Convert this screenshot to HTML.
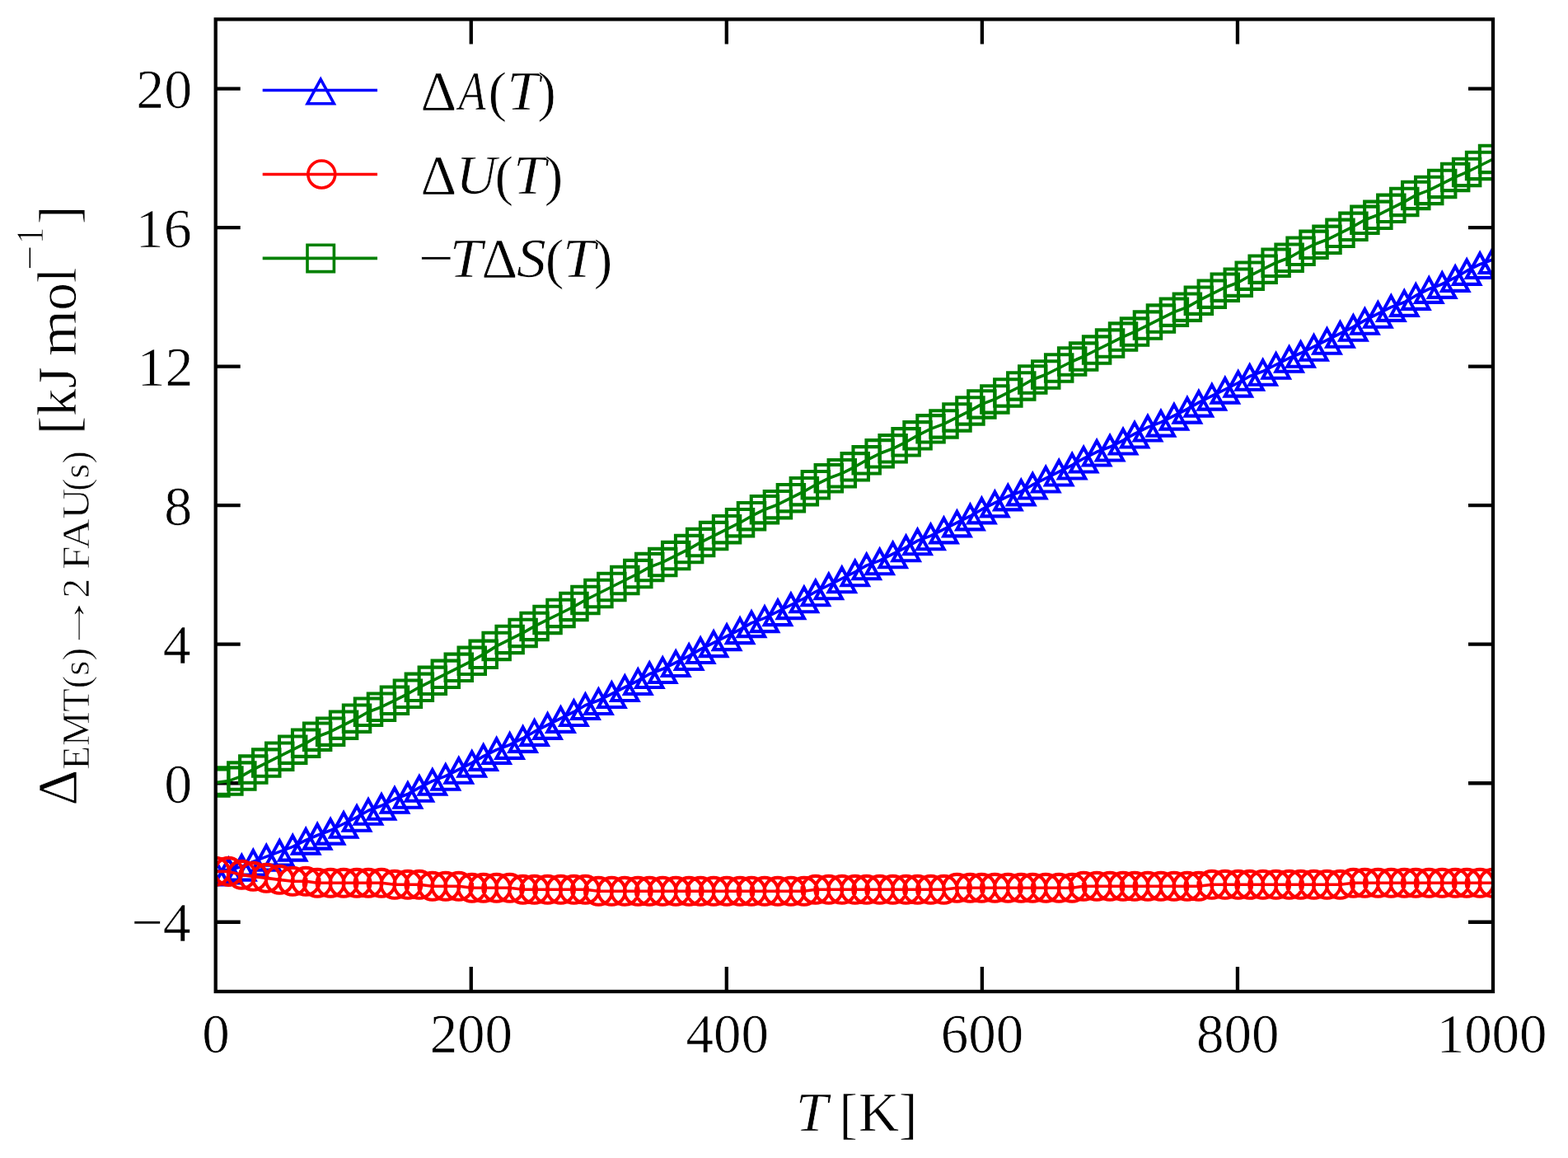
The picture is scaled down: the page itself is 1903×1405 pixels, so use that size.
<!DOCTYPE html>
<html lang="en"><head><meta charset="utf-8"><title>Thermodynamic functions of the EMT to FAU transformation</title>
<style>html,body{margin:0;padding:0;background:#fff}body{width:1903px;height:1405px;overflow:hidden}svg{display:block;filter:blur(0.7px)}</style>
</head><body>
<svg width="1903" height="1405" viewBox="0 0 1903 1405" font-family="'Liberation Serif', serif" fill="#000">
<style>text{stroke:#fff;stroke-width:0.7px;stroke-linejoin:round}</style>
<rect width="1903" height="1405" fill="#fff"/>
<defs><clipPath id="pc"><rect x="261.7" y="23.4" width="1550.3" height="1179.6"/></clipPath></defs>
<path d="M571.76,1203.0v-30.0M571.76,23.4v30.0M881.82,1203.0v-30.0M881.82,23.4v30.0M1191.88,1203.0v-30.0M1191.88,23.4v30.0M1501.94,1203.0v-30.0M1501.94,23.4v30.0M261.7,1118.74h30.0M1812.0,1118.74h-30.0M261.7,950.23h30.0M1812.0,950.23h-30.0M261.7,781.71h30.0M1812.0,781.71h-30.0M261.7,613.20h30.0M1812.0,613.20h-30.0M261.7,444.69h30.0M1812.0,444.69h-30.0M261.7,276.17h30.0M1812.0,276.17h-30.0M261.7,107.66h30.0M1812.0,107.66h-30.0" stroke="#000" stroke-width="4.3" fill="none"/>
<g clip-path="url(#pc)">
<path d="M261.4,1057.4L277.4,1055.4L293.3,1051.4L307.3,1045.4L323.3,1039.4L339.2,1033.4L355.2,1027.4L371.2,1019.4L385.1,1013.5L401.1,1007.5L417.1,999.5L433.0,991.5L447.0,983.5L463.0,977.5L478.9,969.5L494.9,963.5L508.9,955.6L524.8,947.6L540.8,941.6L556.8,933.6L572.7,925.6L586.7,917.6L602.7,909.6L618.6,903.7L634.6,895.7L648.6,887.7L664.5,879.7L680.5,871.7L696.5,863.7L710.4,855.7L726.4,849.8L742.4,841.8L758.3,833.8L774.3,825.8L788.3,817.8L804.2,811.8L820.2,803.8L836.2,795.9L850.1,787.9L866.1,779.9L882.1,771.9L898.0,763.9L912.0,755.9L928.0,749.9L943.9,742.0L959.9,734.0L975.9,726.0L989.8,718.0L1005.8,710.0L1021.8,702.0L1037.7,694.0L1051.7,686.1L1067.7,680.1L1083.6,672.1L1099.6,664.1L1113.6,656.1L1129.5,650.1L1145.5,642.1L1161.5,634.2L1177.4,626.2L1191.4,618.2L1207.4,610.2L1223.3,602.2L1239.3,596.2L1253.3,588.2L1269.2,580.3L1285.2,572.3L1301.2,564.3L1315.1,556.3L1331.1,548.3L1347.1,542.3L1363.0,534.3L1377.0,526.4L1393.0,518.4L1408.9,512.4L1424.9,504.4L1440.9,496.4L1454.8,488.4L1470.8,480.4L1486.8,472.5L1502.7,464.5L1516.7,456.5L1532.7,450.5L1548.6,442.5L1564.6,434.5L1578.6,428.5L1594.5,420.6L1610.5,412.6L1626.5,404.6L1642.4,396.6L1656.4,388.6L1672.4,380.6L1688.3,372.6L1704.3,366.7L1718.3,358.7L1734.2,350.7L1750.2,344.7L1766.2,336.7L1780.1,328.7L1796.1,320.7L1812.1,314.7" fill="none" stroke="#0000ff" stroke-width="3.6" stroke-linejoin="round"/>
<path d="M261.40,1044.07L245.30,1073.57L277.50,1073.57ZM277.37,1042.07L261.27,1071.57L293.47,1071.57ZM293.33,1038.08L277.23,1067.58L309.43,1067.58ZM307.30,1032.09L291.20,1061.59L323.40,1061.59ZM323.27,1026.10L307.17,1055.60L339.37,1055.60ZM339.23,1020.11L323.13,1049.61L355.33,1049.61ZM355.20,1014.13L339.10,1043.63L371.30,1043.63ZM371.16,1006.14L355.06,1035.64L387.26,1035.64ZM385.13,1000.15L369.03,1029.65L401.23,1029.65ZM401.10,994.16L385.00,1023.66L417.20,1023.66ZM417.06,986.18L400.96,1015.68L433.16,1015.68ZM433.03,978.19L416.93,1007.69L449.13,1007.69ZM447.00,970.21L430.90,999.71L463.10,999.71ZM462.97,964.22L446.87,993.72L479.07,993.72ZM478.93,956.23L462.83,985.73L495.03,985.73ZM494.90,950.24L478.80,979.74L511.00,979.74ZM508.87,942.26L492.77,971.76L524.97,971.76ZM524.83,934.27L508.73,963.77L540.93,963.77ZM540.80,928.28L524.70,957.78L556.90,957.78ZM556.76,920.30L540.66,949.80L572.86,949.80ZM572.73,912.31L556.63,941.81L588.83,941.81ZM586.70,904.33L570.60,933.83L602.80,933.83ZM602.66,896.34L586.56,925.84L618.76,925.84ZM618.63,890.36L602.53,919.86L634.73,919.86ZM634.60,882.37L618.50,911.87L650.70,911.87ZM648.57,874.38L632.47,903.88L664.67,903.88ZM664.53,866.40L648.43,895.90L680.63,895.90ZM680.50,858.41L664.40,887.91L696.60,887.91ZM696.46,850.43L680.36,879.93L712.56,879.93ZM710.43,842.44L694.33,871.94L726.53,871.94ZM726.40,836.45L710.30,865.95L742.50,865.95ZM742.36,828.47L726.26,857.97L758.46,857.97ZM758.33,820.48L742.23,849.98L774.43,849.98ZM774.29,812.50L758.19,842.00L790.39,842.00ZM788.26,804.51L772.16,834.01L804.36,834.01ZM804.23,798.53L788.13,828.03L820.33,828.03ZM820.20,790.54L804.10,820.04L836.30,820.04ZM836.16,782.55L820.06,812.05L852.26,812.05ZM850.13,774.57L834.03,804.07L866.23,804.07ZM866.10,766.58L850.00,796.08L882.20,796.08ZM882.06,758.60L865.96,788.10L898.16,788.10ZM898.03,750.61L881.93,780.11L914.13,780.11ZM912.00,742.63L895.90,772.13L928.10,772.13ZM927.96,736.64L911.86,766.14L944.06,766.14ZM943.93,728.65L927.83,758.15L960.03,758.15ZM959.89,720.67L943.79,750.17L976.00,750.17ZM975.86,712.68L959.76,742.18L991.96,742.18ZM989.83,704.70L973.73,734.20L1005.93,734.20ZM1005.80,696.71L989.70,726.21L1021.90,726.21ZM1021.76,688.73L1005.66,718.23L1037.86,718.23ZM1037.73,680.74L1021.63,710.24L1053.83,710.24ZM1051.70,672.76L1035.60,702.26L1067.80,702.26ZM1067.66,666.77L1051.56,696.27L1083.76,696.27ZM1083.63,658.78L1067.53,688.28L1099.73,688.28ZM1099.59,650.80L1083.49,680.30L1115.69,680.30ZM1113.56,642.81L1097.46,672.31L1129.66,672.31ZM1129.53,636.82L1113.43,666.32L1145.63,666.32ZM1145.50,628.84L1129.40,658.34L1161.60,658.34ZM1161.46,620.85L1145.36,650.35L1177.56,650.35ZM1177.43,612.87L1161.33,642.37L1193.53,642.37ZM1191.40,604.88L1175.30,634.38L1207.50,634.38ZM1207.36,596.90L1191.26,626.40L1223.46,626.40ZM1223.33,588.91L1207.23,618.41L1239.43,618.41ZM1239.29,582.92L1223.19,612.42L1255.39,612.42ZM1253.26,574.94L1237.16,604.44L1269.36,604.44ZM1269.23,566.95L1253.13,596.45L1285.33,596.45ZM1285.19,558.97L1269.09,588.47L1301.29,588.47ZM1301.16,550.98L1285.06,580.48L1317.26,580.48ZM1315.13,543.00L1299.03,572.50L1331.23,572.50ZM1331.10,535.01L1315.00,564.51L1347.20,564.51ZM1347.06,529.02L1330.96,558.52L1363.16,558.52ZM1363.03,521.04L1346.93,550.54L1379.13,550.54ZM1377.00,513.05L1360.90,542.55L1393.10,542.55ZM1392.96,505.07L1376.86,534.57L1409.06,534.57ZM1408.93,499.08L1392.83,528.58L1425.03,528.58ZM1424.89,491.09L1408.79,520.59L1440.99,520.59ZM1440.86,483.11L1424.76,512.61L1456.96,512.61ZM1454.83,475.12L1438.73,504.62L1470.93,504.62ZM1470.79,467.14L1454.69,496.64L1486.89,496.64ZM1486.76,459.15L1470.66,488.65L1502.86,488.65ZM1502.73,451.17L1486.63,480.67L1518.83,480.67ZM1516.70,443.18L1500.60,472.68L1532.80,472.68ZM1532.66,437.19L1516.56,466.69L1548.76,466.69ZM1548.63,429.21L1532.53,458.71L1564.73,458.71ZM1564.59,421.22L1548.49,450.72L1580.69,450.72ZM1578.56,415.24L1562.46,444.74L1594.66,444.74ZM1594.53,407.25L1578.43,436.75L1610.63,436.75ZM1610.49,399.27L1594.39,428.77L1626.59,428.77ZM1626.46,391.28L1610.36,420.78L1642.56,420.78ZM1642.42,383.29L1626.32,412.79L1658.52,412.79ZM1656.39,375.31L1640.29,404.81L1672.49,404.81ZM1672.36,367.32L1656.26,396.82L1688.46,396.82ZM1688.33,359.34L1672.23,388.84L1704.43,388.84ZM1704.29,353.35L1688.19,382.85L1720.39,382.85ZM1718.26,345.37L1702.16,374.87L1734.36,374.87ZM1734.23,337.38L1718.13,366.88L1750.33,366.88ZM1750.19,331.39L1734.09,360.89L1766.29,360.89ZM1766.16,323.41L1750.06,352.91L1782.26,352.91ZM1780.13,315.42L1764.03,344.92L1796.23,344.92ZM1796.09,307.44L1779.99,336.94L1812.19,336.94ZM1812.06,301.45L1795.96,330.95L1828.16,330.95Z" fill="none" stroke="#0000ff" stroke-width="4.1" stroke-linejoin="miter"/>

<path d="M261.4,1057.4L277.4,1057.4L293.3,1061.4L307.3,1063.4L323.3,1065.4L339.2,1067.4L355.2,1069.3L371.2,1069.3L385.1,1071.3L401.1,1071.3L417.1,1071.3L433.0,1071.3L447.0,1071.3L463.0,1071.3L478.9,1073.3L494.9,1073.3L508.9,1073.3L524.8,1075.3L540.8,1075.3L556.8,1075.3L572.7,1077.3L586.7,1077.3L602.7,1077.3L618.6,1077.3L634.6,1079.3L648.6,1079.3L664.5,1079.3L680.5,1079.3L696.5,1079.3L710.4,1079.3L726.4,1081.3L742.4,1081.3L758.3,1081.3L774.3,1081.3L788.3,1081.3L804.2,1081.3L820.2,1081.3L836.2,1081.3L850.1,1081.3L866.1,1081.3L882.1,1081.3L898.0,1081.3L912.0,1081.3L928.0,1081.3L943.9,1081.3L959.9,1081.3L975.9,1081.3L989.8,1079.3L1005.8,1079.3L1021.8,1079.3L1037.7,1079.3L1051.7,1079.3L1067.7,1079.3L1083.6,1079.3L1099.6,1079.3L1113.6,1079.3L1129.5,1079.3L1145.5,1079.3L1161.5,1077.3L1177.4,1077.3L1191.4,1077.3L1207.4,1077.3L1223.3,1077.3L1239.3,1077.3L1253.3,1077.3L1269.2,1077.3L1285.2,1077.3L1301.2,1077.3L1315.1,1075.3L1331.1,1075.3L1347.1,1075.3L1363.0,1075.3L1377.0,1075.3L1393.0,1075.3L1408.9,1075.3L1424.9,1075.3L1440.9,1075.3L1454.8,1075.3L1470.8,1073.3L1486.8,1073.3L1502.7,1073.3L1516.7,1073.3L1532.7,1073.3L1548.6,1073.3L1564.6,1073.3L1578.6,1073.3L1594.5,1073.3L1610.5,1073.3L1626.5,1073.3L1642.4,1071.3L1656.4,1071.3L1672.4,1071.3L1688.3,1071.3L1704.3,1071.3L1718.3,1071.3L1734.2,1071.3L1750.2,1071.3L1766.2,1071.3L1780.1,1071.3L1796.1,1071.3L1812.1,1071.3" fill="none" stroke="#ff0000" stroke-width="3.6" stroke-linejoin="round"/>
<path d="M244.95,1057.37a16.45,16.45 0 1,0 32.90,0a16.45,16.45 0 1,0 -32.90,0ZM260.92,1057.37a16.45,16.45 0 1,0 32.90,0a16.45,16.45 0 1,0 -32.90,0ZM276.88,1061.36a16.45,16.45 0 1,0 32.90,0a16.45,16.45 0 1,0 -32.90,0ZM290.85,1063.36a16.45,16.45 0 1,0 32.90,0a16.45,16.45 0 1,0 -32.90,0ZM306.82,1065.36a16.45,16.45 0 1,0 32.90,0a16.45,16.45 0 1,0 -32.90,0ZM322.78,1067.35a16.45,16.45 0 1,0 32.90,0a16.45,16.45 0 1,0 -32.90,0ZM338.75,1069.35a16.45,16.45 0 1,0 32.90,0a16.45,16.45 0 1,0 -32.90,0ZM354.71,1069.35a16.45,16.45 0 1,0 32.90,0a16.45,16.45 0 1,0 -32.90,0ZM368.68,1071.34a16.45,16.45 0 1,0 32.90,0a16.45,16.45 0 1,0 -32.90,0ZM384.65,1071.34a16.45,16.45 0 1,0 32.90,0a16.45,16.45 0 1,0 -32.90,0ZM400.61,1071.34a16.45,16.45 0 1,0 32.90,0a16.45,16.45 0 1,0 -32.90,0ZM416.58,1071.34a16.45,16.45 0 1,0 32.90,0a16.45,16.45 0 1,0 -32.90,0ZM430.55,1071.34a16.45,16.45 0 1,0 32.90,0a16.45,16.45 0 1,0 -32.90,0ZM446.52,1071.34a16.45,16.45 0 1,0 32.90,0a16.45,16.45 0 1,0 -32.90,0ZM462.48,1073.34a16.45,16.45 0 1,0 32.90,0a16.45,16.45 0 1,0 -32.90,0ZM478.45,1073.34a16.45,16.45 0 1,0 32.90,0a16.45,16.45 0 1,0 -32.90,0ZM492.42,1073.34a16.45,16.45 0 1,0 32.90,0a16.45,16.45 0 1,0 -32.90,0ZM508.38,1075.34a16.45,16.45 0 1,0 32.90,0a16.45,16.45 0 1,0 -32.90,0ZM524.35,1075.34a16.45,16.45 0 1,0 32.90,0a16.45,16.45 0 1,0 -32.90,0ZM540.31,1075.34a16.45,16.45 0 1,0 32.90,0a16.45,16.45 0 1,0 -32.90,0ZM556.28,1077.33a16.45,16.45 0 1,0 32.90,0a16.45,16.45 0 1,0 -32.90,0ZM570.25,1077.33a16.45,16.45 0 1,0 32.90,0a16.45,16.45 0 1,0 -32.90,0ZM586.21,1077.33a16.45,16.45 0 1,0 32.90,0a16.45,16.45 0 1,0 -32.90,0ZM602.18,1077.33a16.45,16.45 0 1,0 32.90,0a16.45,16.45 0 1,0 -32.90,0ZM618.15,1079.33a16.45,16.45 0 1,0 32.90,0a16.45,16.45 0 1,0 -32.90,0ZM632.12,1079.33a16.45,16.45 0 1,0 32.90,0a16.45,16.45 0 1,0 -32.90,0ZM648.08,1079.33a16.45,16.45 0 1,0 32.90,0a16.45,16.45 0 1,0 -32.90,0ZM664.05,1079.33a16.45,16.45 0 1,0 32.90,0a16.45,16.45 0 1,0 -32.90,0ZM680.01,1079.33a16.45,16.45 0 1,0 32.90,0a16.45,16.45 0 1,0 -32.90,0ZM693.98,1079.33a16.45,16.45 0 1,0 32.90,0a16.45,16.45 0 1,0 -32.90,0ZM709.95,1081.33a16.45,16.45 0 1,0 32.90,0a16.45,16.45 0 1,0 -32.90,0ZM725.91,1081.33a16.45,16.45 0 1,0 32.90,0a16.45,16.45 0 1,0 -32.90,0ZM741.88,1081.33a16.45,16.45 0 1,0 32.90,0a16.45,16.45 0 1,0 -32.90,0ZM757.84,1081.33a16.45,16.45 0 1,0 32.90,0a16.45,16.45 0 1,0 -32.90,0ZM771.81,1081.33a16.45,16.45 0 1,0 32.90,0a16.45,16.45 0 1,0 -32.90,0ZM787.78,1081.33a16.45,16.45 0 1,0 32.90,0a16.45,16.45 0 1,0 -32.90,0ZM803.75,1081.33a16.45,16.45 0 1,0 32.90,0a16.45,16.45 0 1,0 -32.90,0ZM819.71,1081.33a16.45,16.45 0 1,0 32.90,0a16.45,16.45 0 1,0 -32.90,0ZM833.68,1081.33a16.45,16.45 0 1,0 32.90,0a16.45,16.45 0 1,0 -32.90,0ZM849.65,1081.33a16.45,16.45 0 1,0 32.90,0a16.45,16.45 0 1,0 -32.90,0ZM865.61,1081.33a16.45,16.45 0 1,0 32.90,0a16.45,16.45 0 1,0 -32.90,0ZM881.58,1081.33a16.45,16.45 0 1,0 32.90,0a16.45,16.45 0 1,0 -32.90,0ZM895.55,1081.33a16.45,16.45 0 1,0 32.90,0a16.45,16.45 0 1,0 -32.90,0ZM911.51,1081.33a16.45,16.45 0 1,0 32.90,0a16.45,16.45 0 1,0 -32.90,0ZM927.48,1081.33a16.45,16.45 0 1,0 32.90,0a16.45,16.45 0 1,0 -32.90,0ZM943.44,1081.33a16.45,16.45 0 1,0 32.90,0a16.45,16.45 0 1,0 -32.90,0ZM959.41,1081.33a16.45,16.45 0 1,0 32.90,0a16.45,16.45 0 1,0 -32.90,0ZM973.38,1079.33a16.45,16.45 0 1,0 32.90,0a16.45,16.45 0 1,0 -32.90,0ZM989.35,1079.33a16.45,16.45 0 1,0 32.90,0a16.45,16.45 0 1,0 -32.90,0ZM1005.31,1079.33a16.45,16.45 0 1,0 32.90,0a16.45,16.45 0 1,0 -32.90,0ZM1021.28,1079.33a16.45,16.45 0 1,0 32.90,0a16.45,16.45 0 1,0 -32.90,0ZM1035.25,1079.33a16.45,16.45 0 1,0 32.90,0a16.45,16.45 0 1,0 -32.90,0ZM1051.21,1079.33a16.45,16.45 0 1,0 32.90,0a16.45,16.45 0 1,0 -32.90,0ZM1067.18,1079.33a16.45,16.45 0 1,0 32.90,0a16.45,16.45 0 1,0 -32.90,0ZM1083.14,1079.33a16.45,16.45 0 1,0 32.90,0a16.45,16.45 0 1,0 -32.90,0ZM1097.11,1079.33a16.45,16.45 0 1,0 32.90,0a16.45,16.45 0 1,0 -32.90,0ZM1113.08,1079.33a16.45,16.45 0 1,0 32.90,0a16.45,16.45 0 1,0 -32.90,0ZM1129.05,1079.33a16.45,16.45 0 1,0 32.90,0a16.45,16.45 0 1,0 -32.90,0ZM1145.01,1077.33a16.45,16.45 0 1,0 32.90,0a16.45,16.45 0 1,0 -32.90,0ZM1160.98,1077.33a16.45,16.45 0 1,0 32.90,0a16.45,16.45 0 1,0 -32.90,0ZM1174.95,1077.33a16.45,16.45 0 1,0 32.90,0a16.45,16.45 0 1,0 -32.90,0ZM1190.91,1077.33a16.45,16.45 0 1,0 32.90,0a16.45,16.45 0 1,0 -32.90,0ZM1206.88,1077.33a16.45,16.45 0 1,0 32.90,0a16.45,16.45 0 1,0 -32.90,0ZM1222.84,1077.33a16.45,16.45 0 1,0 32.90,0a16.45,16.45 0 1,0 -32.90,0ZM1236.81,1077.33a16.45,16.45 0 1,0 32.90,0a16.45,16.45 0 1,0 -32.90,0ZM1252.78,1077.33a16.45,16.45 0 1,0 32.90,0a16.45,16.45 0 1,0 -32.90,0ZM1268.74,1077.33a16.45,16.45 0 1,0 32.90,0a16.45,16.45 0 1,0 -32.90,0ZM1284.71,1077.33a16.45,16.45 0 1,0 32.90,0a16.45,16.45 0 1,0 -32.90,0ZM1298.68,1075.34a16.45,16.45 0 1,0 32.90,0a16.45,16.45 0 1,0 -32.90,0ZM1314.65,1075.34a16.45,16.45 0 1,0 32.90,0a16.45,16.45 0 1,0 -32.90,0ZM1330.61,1075.34a16.45,16.45 0 1,0 32.90,0a16.45,16.45 0 1,0 -32.90,0ZM1346.58,1075.34a16.45,16.45 0 1,0 32.90,0a16.45,16.45 0 1,0 -32.90,0ZM1360.55,1075.34a16.45,16.45 0 1,0 32.90,0a16.45,16.45 0 1,0 -32.90,0ZM1376.51,1075.34a16.45,16.45 0 1,0 32.90,0a16.45,16.45 0 1,0 -32.90,0ZM1392.48,1075.34a16.45,16.45 0 1,0 32.90,0a16.45,16.45 0 1,0 -32.90,0ZM1408.44,1075.34a16.45,16.45 0 1,0 32.90,0a16.45,16.45 0 1,0 -32.90,0ZM1424.41,1075.34a16.45,16.45 0 1,0 32.90,0a16.45,16.45 0 1,0 -32.90,0ZM1438.38,1075.34a16.45,16.45 0 1,0 32.90,0a16.45,16.45 0 1,0 -32.90,0ZM1454.34,1073.34a16.45,16.45 0 1,0 32.90,0a16.45,16.45 0 1,0 -32.90,0ZM1470.31,1073.34a16.45,16.45 0 1,0 32.90,0a16.45,16.45 0 1,0 -32.90,0ZM1486.28,1073.34a16.45,16.45 0 1,0 32.90,0a16.45,16.45 0 1,0 -32.90,0ZM1500.25,1073.34a16.45,16.45 0 1,0 32.90,0a16.45,16.45 0 1,0 -32.90,0ZM1516.21,1073.34a16.45,16.45 0 1,0 32.90,0a16.45,16.45 0 1,0 -32.90,0ZM1532.18,1073.34a16.45,16.45 0 1,0 32.90,0a16.45,16.45 0 1,0 -32.90,0ZM1548.14,1073.34a16.45,16.45 0 1,0 32.90,0a16.45,16.45 0 1,0 -32.90,0ZM1562.11,1073.34a16.45,16.45 0 1,0 32.90,0a16.45,16.45 0 1,0 -32.90,0ZM1578.08,1073.34a16.45,16.45 0 1,0 32.90,0a16.45,16.45 0 1,0 -32.90,0ZM1594.04,1073.34a16.45,16.45 0 1,0 32.90,0a16.45,16.45 0 1,0 -32.90,0ZM1610.01,1073.34a16.45,16.45 0 1,0 32.90,0a16.45,16.45 0 1,0 -32.90,0ZM1625.97,1071.34a16.45,16.45 0 1,0 32.90,0a16.45,16.45 0 1,0 -32.90,0ZM1639.94,1071.34a16.45,16.45 0 1,0 32.90,0a16.45,16.45 0 1,0 -32.90,0ZM1655.91,1071.34a16.45,16.45 0 1,0 32.90,0a16.45,16.45 0 1,0 -32.90,0ZM1671.88,1071.34a16.45,16.45 0 1,0 32.90,0a16.45,16.45 0 1,0 -32.90,0ZM1687.84,1071.34a16.45,16.45 0 1,0 32.90,0a16.45,16.45 0 1,0 -32.90,0ZM1701.81,1071.34a16.45,16.45 0 1,0 32.90,0a16.45,16.45 0 1,0 -32.90,0ZM1717.78,1071.34a16.45,16.45 0 1,0 32.90,0a16.45,16.45 0 1,0 -32.90,0ZM1733.74,1071.34a16.45,16.45 0 1,0 32.90,0a16.45,16.45 0 1,0 -32.90,0ZM1749.71,1071.34a16.45,16.45 0 1,0 32.90,0a16.45,16.45 0 1,0 -32.90,0ZM1763.68,1071.34a16.45,16.45 0 1,0 32.90,0a16.45,16.45 0 1,0 -32.90,0ZM1779.64,1071.34a16.45,16.45 0 1,0 32.90,0a16.45,16.45 0 1,0 -32.90,0ZM1795.61,1071.34a16.45,16.45 0 1,0 32.90,0a16.45,16.45 0 1,0 -32.90,0Z" fill="none" stroke="#ff0000" stroke-width="4.1" stroke-linejoin="miter"/>

<path d="M261.4,949.6L277.4,947.6L293.3,941.6L307.3,933.6L323.3,925.6L339.2,917.6L355.2,909.6L371.2,901.7L385.1,893.7L401.1,887.7L417.1,879.7L433.0,871.7L447.0,863.7L463.0,857.7L478.9,849.8L494.9,841.8L508.9,833.8L524.8,825.8L540.8,817.8L556.8,809.8L572.7,801.8L586.7,793.9L602.7,783.9L618.6,775.9L634.6,767.9L648.6,759.9L664.5,751.9L680.5,744.0L696.5,736.0L710.4,728.0L726.4,720.0L742.4,712.0L758.3,704.0L774.3,696.0L788.3,688.1L804.2,682.1L820.2,674.1L836.2,666.1L850.1,658.1L866.1,650.1L882.1,642.1L898.0,634.2L912.0,626.2L928.0,618.2L943.9,612.2L959.9,604.2L975.9,596.2L989.8,588.2L1005.8,580.3L1021.8,574.3L1037.7,566.3L1051.7,558.3L1067.7,550.3L1083.6,544.3L1099.6,536.3L1113.6,528.4L1129.5,520.4L1145.5,514.4L1161.5,506.4L1177.4,498.4L1191.4,490.4L1207.4,484.4L1223.3,476.4L1239.3,468.5L1253.3,460.5L1269.2,454.5L1285.2,446.5L1301.2,438.5L1315.1,432.5L1331.1,424.5L1347.1,416.6L1363.0,408.6L1377.0,402.6L1393.0,394.6L1408.9,386.6L1424.9,378.6L1440.9,372.6L1454.8,364.7L1470.8,356.7L1486.8,348.7L1502.7,342.7L1516.7,334.7L1532.7,326.7L1548.6,318.7L1564.6,312.8L1578.6,304.8L1594.5,296.8L1610.5,290.8L1626.5,282.8L1642.4,274.8L1656.4,266.8L1672.4,260.8L1688.3,252.9L1704.3,244.9L1718.3,236.9L1734.2,230.9L1750.2,222.9L1766.2,214.9L1780.1,208.9L1796.1,201.0L1812.1,193.0" fill="none" stroke="#008000" stroke-width="3.6" stroke-linejoin="round"/>
<path d="M245.20,933.37h32.40v32.40h-32.40ZM261.17,931.37h32.40v32.40h-32.40ZM277.13,925.38h32.40v32.40h-32.40ZM291.10,917.40h32.40v32.40h-32.40ZM307.07,909.41h32.40v32.40h-32.40ZM323.03,901.43h32.40v32.40h-32.40ZM339.00,893.44h32.40v32.40h-32.40ZM354.96,885.46h32.40v32.40h-32.40ZM368.93,877.47h32.40v32.40h-32.40ZM384.90,871.48h32.40v32.40h-32.40ZM400.86,863.50h32.40v32.40h-32.40ZM416.83,855.51h32.40v32.40h-32.40ZM430.80,847.53h32.40v32.40h-32.40ZM446.77,841.54h32.40v32.40h-32.40ZM462.73,833.55h32.40v32.40h-32.40ZM478.70,825.57h32.40v32.40h-32.40ZM492.67,817.58h32.40v32.40h-32.40ZM508.63,809.60h32.40v32.40h-32.40ZM524.60,801.61h32.40v32.40h-32.40ZM540.56,793.63h32.40v32.40h-32.40ZM556.53,785.64h32.40v32.40h-32.40ZM570.50,777.66h32.40v32.40h-32.40ZM586.46,767.68h32.40v32.40h-32.40ZM602.43,759.69h32.40v32.40h-32.40ZM618.40,751.71h32.40v32.40h-32.40ZM632.37,743.72h32.40v32.40h-32.40ZM648.33,735.74h32.40v32.40h-32.40ZM664.30,727.75h32.40v32.40h-32.40ZM680.26,719.77h32.40v32.40h-32.40ZM694.23,711.78h32.40v32.40h-32.40ZM710.20,703.80h32.40v32.40h-32.40ZM726.16,695.81h32.40v32.40h-32.40ZM742.13,687.82h32.40v32.40h-32.40ZM758.09,679.84h32.40v32.40h-32.40ZM772.06,671.85h32.40v32.40h-32.40ZM788.03,665.87h32.40v32.40h-32.40ZM804.00,657.88h32.40v32.40h-32.40ZM819.96,649.90h32.40v32.40h-32.40ZM833.93,641.91h32.40v32.40h-32.40ZM849.90,633.92h32.40v32.40h-32.40ZM865.86,625.94h32.40v32.40h-32.40ZM881.83,617.95h32.40v32.40h-32.40ZM895.80,609.97h32.40v32.40h-32.40ZM911.76,601.98h32.40v32.40h-32.40ZM927.73,596.00h32.40v32.40h-32.40ZM943.69,588.01h32.40v32.40h-32.40ZM959.66,580.02h32.40v32.40h-32.40ZM973.63,572.04h32.40v32.40h-32.40ZM989.60,564.05h32.40v32.40h-32.40ZM1005.56,558.07h32.40v32.40h-32.40ZM1021.53,550.08h32.40v32.40h-32.40ZM1035.50,542.10h32.40v32.40h-32.40ZM1051.46,534.11h32.40v32.40h-32.40ZM1067.43,528.12h32.40v32.40h-32.40ZM1083.39,520.14h32.40v32.40h-32.40ZM1097.36,512.15h32.40v32.40h-32.40ZM1113.33,504.17h32.40v32.40h-32.40ZM1129.30,498.18h32.40v32.40h-32.40ZM1145.26,490.19h32.40v32.40h-32.40ZM1161.23,482.21h32.40v32.40h-32.40ZM1175.20,474.22h32.40v32.40h-32.40ZM1191.16,468.23h32.40v32.40h-32.40ZM1207.13,460.25h32.40v32.40h-32.40ZM1223.09,452.26h32.40v32.40h-32.40ZM1237.06,444.28h32.40v32.40h-32.40ZM1253.03,438.29h32.40v32.40h-32.40ZM1268.99,430.30h32.40v32.40h-32.40ZM1284.96,422.32h32.40v32.40h-32.40ZM1298.93,416.33h32.40v32.40h-32.40ZM1314.90,408.34h32.40v32.40h-32.40ZM1330.86,400.36h32.40v32.40h-32.40ZM1346.83,392.37h32.40v32.40h-32.40ZM1360.80,386.38h32.40v32.40h-32.40ZM1376.76,378.40h32.40v32.40h-32.40ZM1392.73,370.41h32.40v32.40h-32.40ZM1408.69,362.43h32.40v32.40h-32.40ZM1424.66,356.44h32.40v32.40h-32.40ZM1438.63,348.45h32.40v32.40h-32.40ZM1454.59,340.47h32.40v32.40h-32.40ZM1470.56,332.48h32.40v32.40h-32.40ZM1486.53,326.49h32.40v32.40h-32.40ZM1500.50,318.51h32.40v32.40h-32.40ZM1516.46,310.52h32.40v32.40h-32.40ZM1532.43,302.54h32.40v32.40h-32.40ZM1548.39,296.55h32.40v32.40h-32.40ZM1562.36,288.56h32.40v32.40h-32.40ZM1578.33,280.58h32.40v32.40h-32.40ZM1594.29,274.59h32.40v32.40h-32.40ZM1610.26,266.61h32.40v32.40h-32.40ZM1626.22,258.62h32.40v32.40h-32.40ZM1640.19,250.64h32.40v32.40h-32.40ZM1656.16,244.65h32.40v32.40h-32.40ZM1672.13,236.66h32.40v32.40h-32.40ZM1688.09,228.68h32.40v32.40h-32.40ZM1702.06,220.69h32.40v32.40h-32.40ZM1718.03,214.70h32.40v32.40h-32.40ZM1733.99,206.72h32.40v32.40h-32.40ZM1749.96,198.73h32.40v32.40h-32.40ZM1763.93,192.74h32.40v32.40h-32.40ZM1779.89,184.76h32.40v32.40h-32.40ZM1795.86,176.77h32.40v32.40h-32.40Z" fill="none" stroke="#008000" stroke-width="4.1" stroke-linejoin="miter"/>

</g>
<rect x="261.7" y="23.4" width="1550.3" height="1179.6" fill="none" stroke="#000" stroke-width="4.3"/>
<path d="M318.7,109.5H458.0" stroke="#0000ff" stroke-width="3.6" fill="none"/><path d="M389.20,96.20L373.10,125.70L405.30,125.70Z" stroke="#0000ff" stroke-width="3.6" fill="none"/>
<path d="M318.7,211.5H458.0" stroke="#ff0000" stroke-width="3.6" fill="none"/><path d="M373.85,211.50a16.45,16.45 0 1,0 32.90,0a16.45,16.45 0 1,0 -32.90,0Z" stroke="#ff0000" stroke-width="3.6" fill="none"/>
<path d="M318.7,313.4H458.0" stroke="#008000" stroke-width="3.6" fill="none"/><path d="M373.00,297.20h32.40v32.40h-32.40Z" stroke="#008000" stroke-width="3.6" fill="none"/>
<g id="legend-labels">
<text font-size="68.0" xml:space="preserve" ><tspan x="510.41" y="132.70">Δ</tspan><tspan x="556.58" y="132.70" font-style="italic" textLength="33.23" lengthAdjust="spacingAndGlyphs">A</tspan><tspan x="592.41" y="134.20">(</tspan><tspan x="615.30" y="132.70" font-style="italic" textLength="39.71" lengthAdjust="spacingAndGlyphs">T</tspan><tspan x="652.34" y="134.20">)</tspan></text>
<text font-size="68.0" xml:space="preserve" ><tspan x="510.41" y="234.70">Δ</tspan><tspan x="553.48" y="234.70" font-style="italic">U</tspan><tspan x="600.41" y="236.20">(</tspan><tspan x="623.10" y="234.70" font-style="italic" textLength="39.71" lengthAdjust="spacingAndGlyphs">T</tspan><tspan x="660.84" y="236.20">)</tspan></text>
<text font-size="68.0" xml:space="preserve" ><tspan x="507.79" y="335.70" textLength="42.95" lengthAdjust="spacingAndGlyphs">−</tspan><tspan x="545.70" y="335.70" font-style="italic" textLength="39.71" lengthAdjust="spacingAndGlyphs">T</tspan><tspan x="584.51" y="335.70">Δ</tspan><tspan x="627.11" y="335.70" font-style="italic" textLength="35.70" lengthAdjust="spacingAndGlyphs">S</tspan><tspan x="661.81" y="337.20">(</tspan><tspan x="683.10" y="335.70" font-style="italic" textLength="39.71" lengthAdjust="spacingAndGlyphs">T</tspan><tspan x="720.84" y="337.20">)</tspan></text>
</g>
<g id="tick-labels">
<text font-size="68.0" xml:space="preserve" ><tspan x="159.41" y="1142.14">−4</tspan></text>
<text font-size="68.0" xml:space="preserve" ><tspan x="199.29" y="973.63">0</tspan></text>
<text font-size="68.0" xml:space="preserve" ><tspan x="197.76" y="805.11">4</tspan></text>
<text font-size="68.0" xml:space="preserve" ><tspan x="199.29" y="636.60">8</tspan></text>
<text font-size="68.0" xml:space="preserve" ><tspan x="166.45" y="468.09">12</tspan></text>
<text font-size="68.0" xml:space="preserve" ><tspan x="164.73" y="299.57">16</tspan></text>
<text font-size="68.0" xml:space="preserve" ><tspan x="165.29" y="131.06">20</tspan></text>
<text font-size="68.0" xml:space="preserve" ><tspan x="245.25" y="1277.00" textLength="33.49" lengthAdjust="spacingAndGlyphs">0</tspan></text>
<text font-size="68.0" xml:space="preserve" ><tspan x="521.63" y="1277.00" textLength="100.47" lengthAdjust="spacingAndGlyphs">200</tspan></text>
<text font-size="68.0" xml:space="preserve" ><tspan x="832.51" y="1277.00" textLength="100.47" lengthAdjust="spacingAndGlyphs">400</tspan></text>
<text font-size="68.0" xml:space="preserve" ><tspan x="1141.78" y="1277.00" textLength="100.47" lengthAdjust="spacingAndGlyphs">600</tspan></text>
<text font-size="68.0" xml:space="preserve" ><tspan x="1452.01" y="1277.00" textLength="100.47" lengthAdjust="spacingAndGlyphs">800</tspan></text>
<text font-size="68.0" xml:space="preserve" ><tspan x="1743.65" y="1277.00" textLength="133.96" lengthAdjust="spacingAndGlyphs">1000</tspan></text>
</g>
<g id="xlabel">
<text font-size="68.0" xml:space="preserve" ><tspan x="965.86" y="1371.60" font-style="italic" textLength="38.95" lengthAdjust="spacingAndGlyphs">T</tspan><tspan> </tspan><tspan x="1018.25" y="1373.80">[</tspan><tspan x="1041.92" y="1371.60">K</tspan><tspan x="1090.80" y="1373.80">]</tspan></text>
</g>
<g id="ylabel">
<text font-size="68.0" xml:space="preserve" transform="translate(92.0,0) rotate(-90)"><tspan x="-977.39" y="0.00">Δ</tspan><tspan x="-933.54" y="15.60" font-size="47.3" textLength="147.51" lengthAdjust="spacingAndGlyphs">EMT(s)</tspan><tspan> </tspan><tspan x="-791.67" y="12.40" font-size="47.3" textLength="71.90" lengthAdjust="spacingAndGlyphs">→</tspan><tspan> </tspan><tspan x="-725.58" y="15.60" font-size="47.3">2</tspan><tspan> </tspan><tspan x="-690.81" y="15.60" font-size="47.3" textLength="97.93" lengthAdjust="spacingAndGlyphs">FAU</tspan><tspan x="-595.70" y="15.60" font-size="47.3" textLength="48.41" lengthAdjust="spacingAndGlyphs">(s)</tspan><tspan> </tspan><tspan x="-527.25" y="2.20">[</tspan><tspan x="-504.88" y="0.00" textLength="59.86" lengthAdjust="spacingAndGlyphs">kJ</tspan><tspan> </tspan><tspan x="-432.11" y="0.00" textLength="56.07" lengthAdjust="spacingAndGlyphs">m</tspan><tspan x="-376.86" y="0.00" textLength="52.36" lengthAdjust="spacingAndGlyphs">ol</tspan><tspan x="-327.71" y="-40.00" font-size="47.3" textLength="30.68" lengthAdjust="spacingAndGlyphs">−</tspan><tspan x="-295.61" y="-40.00" font-size="47.3" textLength="19.39" lengthAdjust="spacingAndGlyphs">1</tspan><tspan x="-272.20" y="2.20">]</tspan></text>
</g>
</svg>
</body></html>
